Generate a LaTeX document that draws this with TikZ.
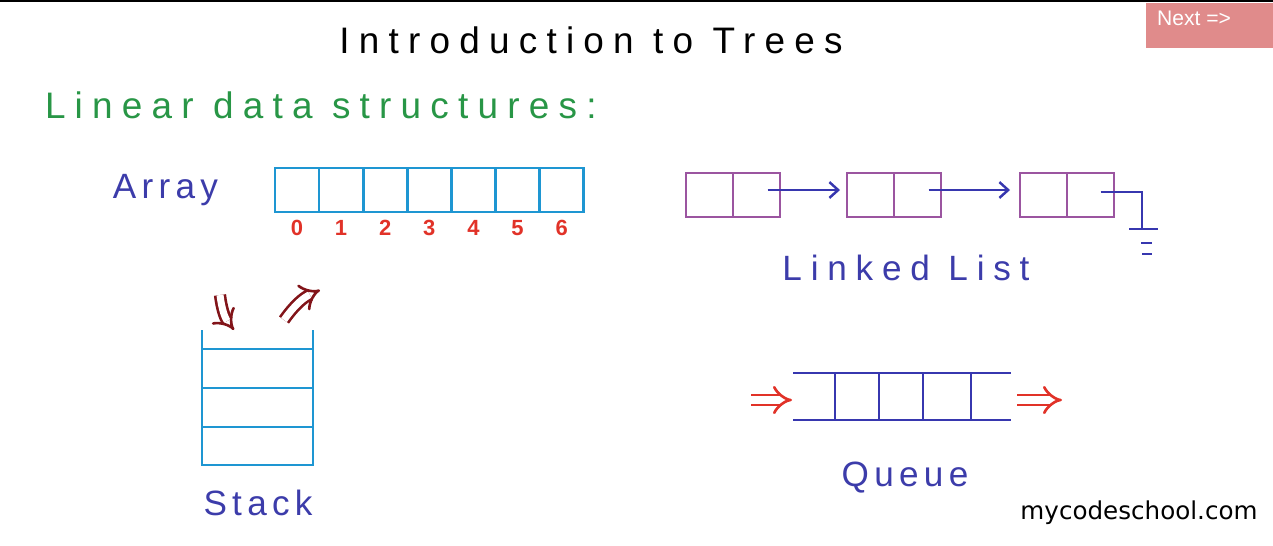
\documentclass[tikz,border=0pt]{standalone}
\usepackage{fontspec}
\setmainfont{Liberation Sans}
\newfontfamily\hand[LetterSpace=15]{Liberation Sans}
\newfontfamily\handwide[LetterSpace=25]{Liberation Sans}
\newfontfamily\web{Liberation Sans}
\newfontfamily\logofont{DejaVu Sans}
\usetikzlibrary{arrows.meta, positioning}

\definecolor{arrblue}{RGB}{30,150,210}
\definecolor{lpurple}{RGB}{155,85,160}
\definecolor{lblue}{RGB}{55,55,175}
\definecolor{txtblue}{RGB}{60,60,170}
\definecolor{hgreen}{RGB}{40,150,70}
\definecolor{idxred}{RGB}{225,50,40}
\definecolor{darkred}{RGB}{130,20,25}
\definecolor{btnred}{RGB}{224,139,139}

\begin{document}
\begin{tikzpicture}[
    x=0.02cm, y=-0.02cm,
    every node/.style={inner sep=0pt, outer sep=0pt},
    cell/.style={draw=arrblue, line width=1.6pt, minimum width=0.882cm, minimum height=0.88cm},
    half/.style={draw=lpurple, line width=1.5pt, minimum width=0.94cm, minimum height=0.88cm},
    label/.style={font=\hand\fontsize{20}{24}\selectfont, text=txtblue},
    heading/.style={font=\handwide\fontsize{21}{25}\selectfont},
    index/.style={font=\hand\bfseries\fontsize{12.5}{14}\selectfont, text=idxred},
    link/.style={-{Straight Barb[length=5pt,width=9pt]}, draw=lblue, line width=1.4pt},
    nil/.style={draw=lblue, line width=1.4pt},
    stk/.style={draw=arrblue, line width=1.6pt},
    que/.style={draw=lblue, line width=1.4pt},
    dblarrow/.style={double, double distance=4pt, line width=1.5pt, -{Implies}}
]
\useasboundingbox (0,0) rectangle (1273,545);
\fill[black] (0,0) rectangle (1273,2);

% Titel
\node[heading] (title) at (591,40) {Introduction to Trees};
\node[heading, text=hgreen, anchor=west] (linear) at (45,105) {Linear data structures:};

% Next-Knopf
\fill[btnred] (1146,3) rectangle (1273,48);
\node[font=\web\fontsize{12}{14}\selectfont, text=white] (next) at (1194,18) {Next =>};

% Array
\foreach \i in {0,...,6}{
  \node[cell] (a\i) at ({297+44.1*\i},190) {};
  \node[index] at ({297+44.1*\i},228) {\i};
}
\node[label, left=1.14cm of a0] (array) {Array};

% Linked List
\node[half] (l1d) at (709.5,195) {};
\node[half, right=0pt of l1d] (l1p) {};
\node[half] (l2d) at (870.5,195) {};
\node[half, right=0pt of l2d] (l2p) {};
\node[half] (l3d) at (1043.5,195) {};
\node[half, right=0pt of l3d] (l3p) {};
\draw[link] ([xshift=0.22cm,yshift=0.1cm]l1p.center) -- ([xshift=-0.14cm,yshift=0.1cm]l2d.west);
\draw[link] ([xshift=0.22cm,yshift=0.1cm]l2p.center) -- ([xshift=-0.2cm,yshift=0.1cm]l3d.west);
\coordinate (gnd) at (1142,229);
\draw[nil] ([xshift=0.2cm,yshift=0.06cm]l3p.center) -| (gnd);
\draw[nil] ([xshift=-0.26cm]gnd) -- ([xshift=0.32cm]gnd);
\draw[nil] ([xshift=-0.02cm,yshift=-0.28cm]gnd) -- ([xshift=0.2cm,yshift=-0.28cm]gnd);
\draw[nil] ([xshift=0cm,yshift=-0.5cm]gnd) -- ([xshift=0.2cm,yshift=-0.5cm]gnd);
\node[label, font=\handwide\fontsize{20}{24}\selectfont] (llist) at (906,268) {Linked List};

% Stack
\coordinate (s1) at (202,330);
\coordinate (s2) at (313,330);
\draw[stk] (s1) -- (202,465) -- (313,465) -- (s2);
\foreach \y in {349,388,427}
  \draw[stk] (202,\y) -- (313,\y);
\coordinate (push) at (220,295);
\coordinate (pushend) at (234,330);
\coordinate (pop) at (284,320);
\coordinate (popend) at (320,290);
\draw[dblarrow, draw=darkred] (push) to[bend right=15] (pushend);
\draw[dblarrow, draw=darkred] (pop) to[bend left=15] (popend);
\node[label] (stack) at (258,503) {Stack};

% Queue
\draw[que] (793,373) -- (1011,373);
\draw[que] (793,420) -- (1011,420);
\foreach \x in {835,879,923,971}
  \draw[que] (\x,373) -- (\x,420);
\coordinate (qin) at (751,400);
\coordinate (qinend) at (792,400);
\coordinate (qout) at (1017,400);
\coordinate (qoutend) at (1062,400);
\draw[dblarrow, draw=idxred] (qin) -- (qinend);
\draw[dblarrow, draw=idxred] (qout) -- (qoutend);
\node[label] (queue) at (905,478) {Queue};

% Logo
\node[font=\logofont\fontsize{14}{16}\selectfont] (logo) at (1139,513) {mycodeschool.com};
\end{tikzpicture}
\end{document}
